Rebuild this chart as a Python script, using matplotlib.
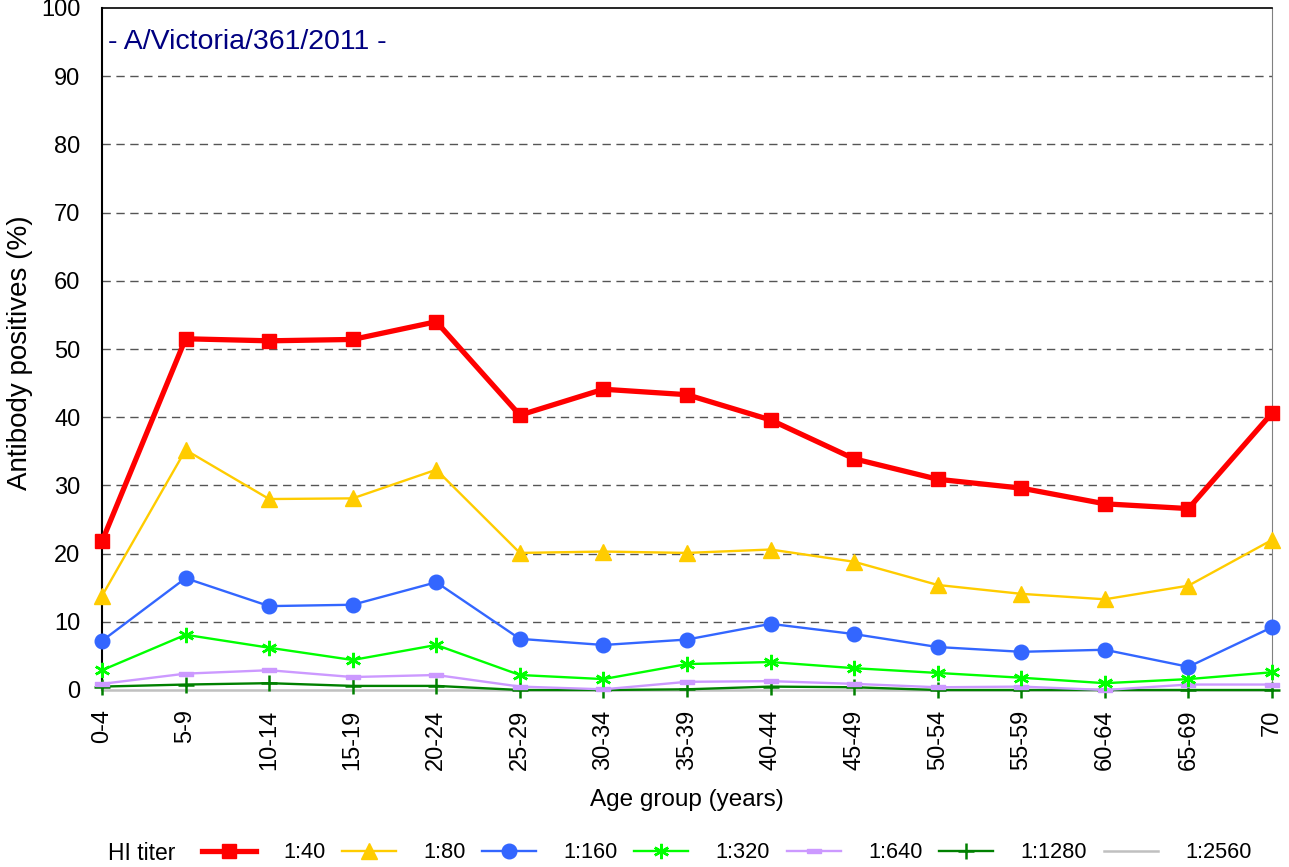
import matplotlib
matplotlib.use("Agg")
import matplotlib.pyplot as plt
from matplotlib.lines import Line2D

plt.rcParams['font.family'] = ['Liberation Sans', 'DejaVu Sans']

age_groups = ["0-4", "5-9", "10-14", "15-19", "20-24", "25-29", "30-34", "35-39",
              "40-44", "45-49", "50-54", "55-59", "60-64", "65-69", "70"]

titer_labels = ["1:40", "1:80", "1:160", "1:320", "1:640", "1:1280", "1:2560"]

t40 = [21.8, 51.5, 51.2, 51.4, 54.0, 40.3, 44.1, 43.3, 39.6, 33.9, 30.9, 29.6, 27.3, 26.6, 40.6]
t80 = [13.8, 35.2, 28.0, 28.1, 32.3, 20.1, 20.3, 20.1, 20.6, 18.8, 15.4, 14.1, 13.3, 15.3, 22.0]
t160 = [7.2, 16.4, 12.3, 12.5, 15.8, 7.5, 6.6, 7.4, 9.7, 8.2, 6.3, 5.6, 5.9, 3.4, 9.2]
t320 = [2.9, 8.1, 6.2, 4.4, 6.6, 2.2, 1.6, 3.8, 4.1, 3.2, 2.5, 1.8, 1.0, 1.6, 2.6]
t640 = [0.9, 2.4, 2.9, 1.9, 2.2, 0.5, 0.1, 1.2, 1.3, 0.9, 0.4, 0.5, 0.0, 0.8, 0.8]
t1280 = [0.5, 0.8, 1.0, 0.6, 0.6, 0.0, 0.0, 0.1, 0.5, 0.4, 0.0, 0.0, 0.0, 0.0, 0.0]
t2560 = [0.0] * 15

yticks = list(range(0, 101, 10))

W, H = 1289, 867

rect_marker = [(-1.0, -0.35), (1.0, -0.35), (1.0, 0.35), (-1.0, 0.35), (-1.0, -0.35)]

styles = [
    dict(color="#FF0000", lw=3.8, marker="s", ms=10.5, mec="#FF0000", mfc="#FF0000"),
    dict(color="#FFCC00", lw=1.7, marker="^", ms=11, mec="#FFCC00", mfc="#FFCC00"),
    dict(color="#3366FF", lw=1.7, marker="o", ms=10.5, mec="#3366FF", mfc="#3366FF"),
    dict(color="#00FF00", lw=1.7, marker=(6, 2, 0), ms=11, mec="#00FF00", mew=1.8),
    dict(color="#CC99FF", lw=1.7, marker=rect_marker, ms=10, mec="#CC99FF", mfc="#CC99FF"),
    dict(color="#008000", lw=1.7, marker="+", ms=12, mec="#008000", mew=1.8),
    dict(color="#C0C0C0", lw=1.8, marker=None),
]

series = [t40, t80, t160, t320, t640, t1280, t2560]

fig = plt.figure(figsize=(W / 100, H / 100), dpi=100)
ax_w = 1272 - 102
ax_h = 690 - 8
ax = fig.add_axes([102 / W, 1 - 690 / H, ax_w / W, ax_h / H])

x = list(range(len(age_groups)))
for i in [6, 5, 4, 3, 2, 1, 0]:
    ax.plot(x, series[i], zorder=3 + (6 - i), clip_on=False, **styles[i])

ax.set_xlim(0, len(age_groups) - 1)
ax.set_ylim(0, 100)
ax.set_yticks(yticks)
ax.set_yticklabels([str(v) for v in yticks], fontsize=17)
ax.set_xticks(x)
ax.set_xticklabels(age_groups, rotation=90, fontsize=17)
ax.tick_params(axis='x', length=0, pad=14)
ax.tick_params(axis='y', length=0, pad=15.5)

for v in yticks[1:-1]:
    ax.axhline(v, color="#555555", lw=1.0, ls=(0, (6, 4)), zorder=1)

ax.spines['left'].set_color('black')
ax.spines['left'].set_linewidth(1.5)
ax.spines['right'].set_color('#808080')
ax.spines['top'].set_color('black')
ax.spines['top'].set_linewidth(1.2)
ax.spines['bottom'].set_visible(False)

ax.set_xlabel("Age group (years)", fontsize=17.5, labelpad=14)
ax.set_ylabel("Antibody positives (%)", fontsize=20)
ax.yaxis.set_label_coords((20 - 102) / ax_w, (690 - 353) / ax_h)
ax.yaxis.label.set_va("center")

ax.text(6 / ax_w, 1 - (42 - 8) / ax_h, "- A/Victoria/361/2011 -",
        transform=ax.transAxes, fontsize=20.5, color="#000080", ha="left", va="center")

# legend
leg_y = 1 - 853 / H
fig.text(108 / W, leg_y, "HI titer", fontsize=16.5, ha="left", va="center")
handle_starts = [202, 342, 482, 634, 787, 939, 1104]
leg_fs = 15.7
em = leg_fs * 100 / 72
for i in range(7):
    h = Line2D([], [], **styles[i])
    fig.legend([h], [titer_labels[i]], loc="center left",
               bbox_to_anchor=(handle_starts[i] / W, leg_y), frameon=False,
               fontsize=leg_fs, handlelength=54 / em, handletextpad=27 / em,
               borderaxespad=0, borderpad=0)

fig.savefig("out.png", dpi=100)
